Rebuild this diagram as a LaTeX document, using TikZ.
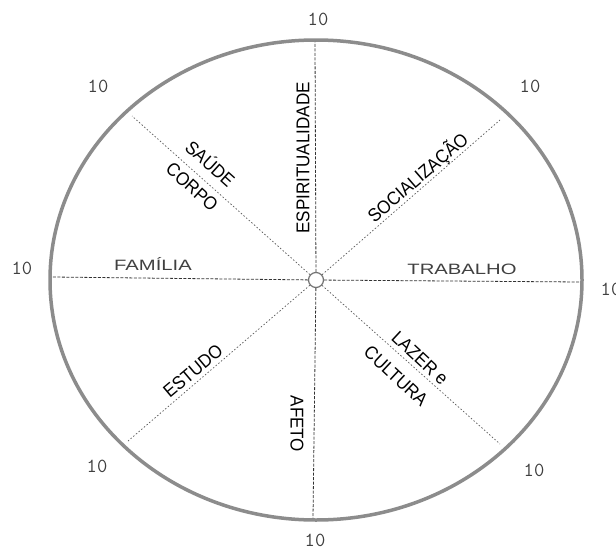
\documentclass[tikz,border=0pt]{standalone}
\usepackage{fontspec}
\newfontfamily\lblfont[FakeStretch=0.92]{Liberation Sans}
\newfontfamily\widefont[FakeStretch=1.35]{Liberation Sans}
\begin{document}
\begin{tikzpicture}[x=1pt,y=-1pt,
  ring/.style={draw=black!45, line width=3.5pt},
  spoke/.style={draw=black!80, line width=0.8pt, dash pattern=on 3pt off 1.5pt},
  diag/.style={draw=black!65, line width=0.7pt, dash pattern=on 1.5pt off 2pt},
  hubstyle/.style={draw=black!55, line width=1.2pt, circle, minimum size=15pt, inner sep=0pt},
  ten/.style={font=\ttfamily\fontsize{20}{22}\selectfont, text=black!75, inner sep=0pt},
  area/.style={font=\lblfont\fontsize{18.5}{20}\selectfont, inner sep=0pt},
  hlabel/.style={font=\widefont\fontsize{15}{17}\selectfont, text=black!75, inner sep=0pt}]
\useasboundingbox (0,0) rectangle (616,554);
\fill[white] (0,0) rectangle (616,554);
\coordinate (C) at (316,280);
% outer ring
\draw[ring] (C) ellipse [x radius=266, y radius=240];
% spoke end points
\coordinate (eT) at (315,42);
\coordinate (eB) at (313,518);
\coordinate (eL) at (52,277);
\coordinate (eR) at (580,282);
\coordinate (eUL) at (132,116);
\coordinate (eUR) at (500,120);
\coordinate (eLL) at (128,441);
\coordinate (eLR) at (500,444);
% hub
\node[hubstyle] (hub) at (C) {};
\draw[spoke] (hub) -- (eT);
\draw[spoke] (hub) -- (eB);
\draw[spoke] (hub) -- (eL);
\draw[spoke] (hub) -- (eR);
\draw[diag] (hub) -- (eUL);
\draw[diag] (hub) -- (eUR);
\draw[diag] (hub) -- (eLL);
\draw[diag] (hub) -- (eLR);
% scale labels
\node[ten] (tT) at (318,19) {10};
\node[ten] (tB) at (315,540) {10};
\node[ten] (tL) at (22,268) {10};
\node[ten] (tR) at (611,289) {10};
\node[ten] (tUL) at (98,86) {10};
\node[ten] (tUR) at (530,86) {10};
\node[ten] (tLL) at (97,466) {10};
\node[ten] (tLR) at (534,470) {10};
% area labels
\node[area, rotate=90] (esp) at (303,158) {ESPIRITUALIDADE};
\node[area, rotate=-90] (afe) at (297,424) {AFETO};
\node[area, rotate=-42] (sau) at (211,163) {SAÚDE};
\node[area, rotate=-42] (cor) at (192,187) {CORPO};
\node[area, rotate=41] (soc) at (418,178) {SOCIALIZAÇÃO};
\node[area, rotate=40] (est) at (193,371) {ESTUDO};
\node[area, rotate=-43] (laz) at (420,358) {LAZER e};
\node[area, rotate=-43] (cul) at (396,376) {CULTURA};
\node[hlabel] (fam) at (153,264) {FAMÍLIA};
\node[hlabel] (tra) at (462,269) {TRABALHO};
\end{tikzpicture}
\end{document}
